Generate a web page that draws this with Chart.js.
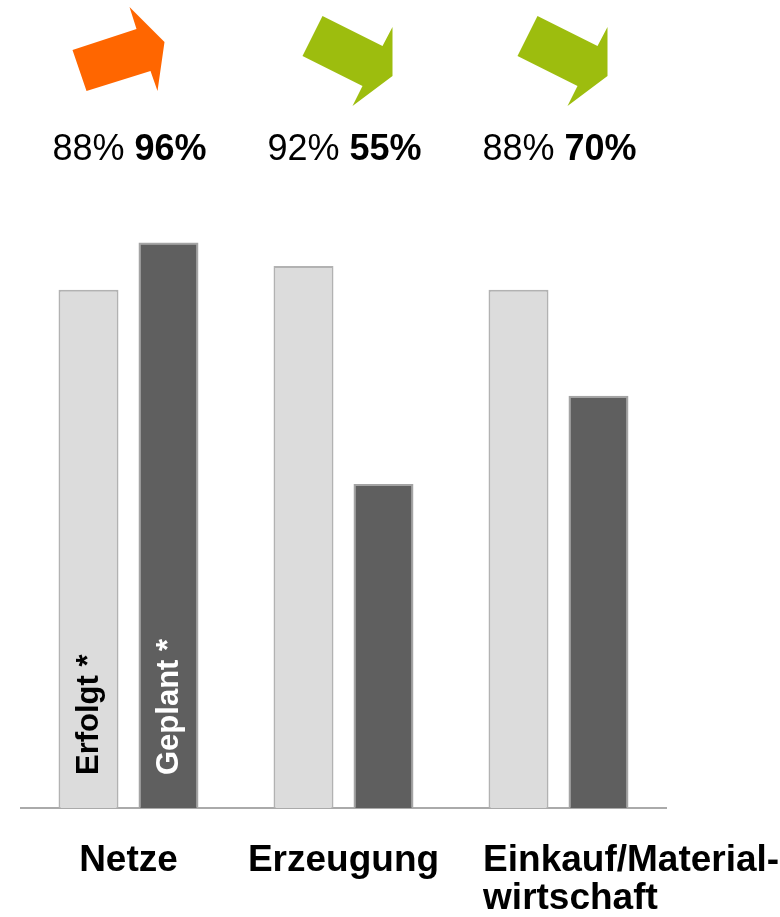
<!DOCTYPE html>
<html lang="de">
<head>
    <meta charset="UTF-8">
    <title>Erfolgt / Geplant</title>
    <script src="https://cdn.jsdelivr.net/npm/chart.js"></script>
    <style>
        html, body {
            margin: 0;
            padding: 0;
            background: #fff;
        }
        #wrap {
            width: 780px;
            height: 917px;
        }
    </style>
</head>
<body>
    <div id="wrap"><canvas id="chart"></canvas></div>
    <script>
        // data
        const categories = ['Netze', 'Erzeugung', ['Einkauf/Material-', 'wirtschaft']];
        const seriesNames = ['Erfolgt *', 'Geplant *'];
        const erfolgt = [88, 92, 88];
        const geplant = [96, 55, 70];

        const FONT = '"Liberation Sans", Arial, Helvetica, sans-serif';

        // arrow outlines, relative to the category centre (x) and canvas top (y)
        const arrowUp = [[-56, 50], [8, 29], [1, 7], [36, 42], [29, 91], [22, 71], [-42, 91]];
        const arrowDown = [[-21, 16], [39, 46], [49, 27], [49, 76], [9, 106], [19, 86], [-41, 56]];

        const overlay = {
            id: 'overlay',
            afterDraw(chart) {
                const ctx = chart.ctx;
                const x = chart.scales.x;
                ctx.save();
                let prevRight = -Infinity;

                categories.forEach((cat, i) => {
                    const cx = x.getPixelForValue(i);

                    // trend arrow
                    const up = geplant[i] > erfolgt[i];
                    const pts = up ? arrowUp : arrowDown;
                    ctx.fillStyle = up ? '#ff6600' : '#9dbd0e';
                    ctx.beginPath();
                    pts.forEach(([px, py], k) => {
                        if (k === 0) ctx.moveTo(cx + px, py);
                        else ctx.lineTo(cx + px, py);
                    });
                    ctx.closePath();
                    ctx.fill();

                    // percent line: "88% 96%"
                    const a = erfolgt[i] + '% ';
                    const b = geplant[i] + '%';
                    ctx.fillStyle = '#000';
                    ctx.textBaseline = 'alphabetic';
                    ctx.textAlign = 'left';
                    ctx.font = '36px ' + FONT;
                    const wa = ctx.measureText(a).width;
                    ctx.font = 'bold 36px ' + FONT;
                    const wb = ctx.measureText(b).width;
                    const left = cx + 1 - (wa + wb) / 2;
                    ctx.font = '36px ' + FONT;
                    ctx.fillText(a, left, 160);
                    ctx.font = 'bold 36px ' + FONT;
                    ctx.fillText(b, left + wa, 160);

                    // category label below the axis
                    const lines = Array.isArray(cat) ? cat : [cat];
                    ctx.font = 'bold 37px ' + FONT;
                    const w = Math.max(...lines.map(l => ctx.measureText(l).width));
                    const lx = Math.max(cx - w / 2, prevRight + 44);
                    prevRight = lx + w;
                    lines.forEach((l, k) => {
                        ctx.fillText(l, lx, 871 + k * 38);
                    });
                });

                // series names written inside the first pair of bars
                const bottom = chart.chartArea.bottom;
                ctx.font = 'bold 31px ' + FONT;
                ctx.textAlign = 'left';
                ctx.textBaseline = 'middle';
                [0, 1].forEach(d => {
                    const bar = chart.getDatasetMeta(d).data[0];
                    ctx.save();
                    ctx.translate(bar.x, bottom - 33);
                    ctx.rotate(-Math.PI / 2);
                    ctx.fillStyle = d === 0 ? '#000' : '#fff';
                    ctx.fillText(seriesNames[d], 0, 1);
                    ctx.restore();
                });

                ctx.restore();
            }
        };

        new Chart(document.getElementById('chart'), {
            type: 'bar',
            data: {
                labels: categories,
                datasets: [
                    {
                        label: seriesNames[0],
                        data: erfolgt,
                        backgroundColor: '#dcdcdc',
                        borderColor: '#b2b2b2',
                        borderWidth: 2
                    },
                    {
                        label: seriesNames[1],
                        data: geplant,
                        backgroundColor: '#5f5f5f',
                        borderColor: '#a4a4a4',
                        borderWidth: 2
                    }
                ]
            },
            options: {
                responsive: true,
                maintainAspectRatio: false,
                animation: false,
                categoryPercentage: 0.744,
                barPercentage: 0.75,
                layout: {
                    padding: { top: 219, left: 21, right: 114, bottom: 101 }
                },
                scales: {
                    x: {
                        grid: { display: false },
                        border: { display: true, color: '#aaaaaa', width: 2 },
                        ticks: { display: false }
                    },
                    y: {
                        display: false,
                        min: 0,
                        max: 100
                    }
                },
                plugins: {
                    legend: { display: false },
                    tooltip: { enabled: false }
                }
            },
            plugins: [overlay]
        });
    </script>
</body>
</html>
